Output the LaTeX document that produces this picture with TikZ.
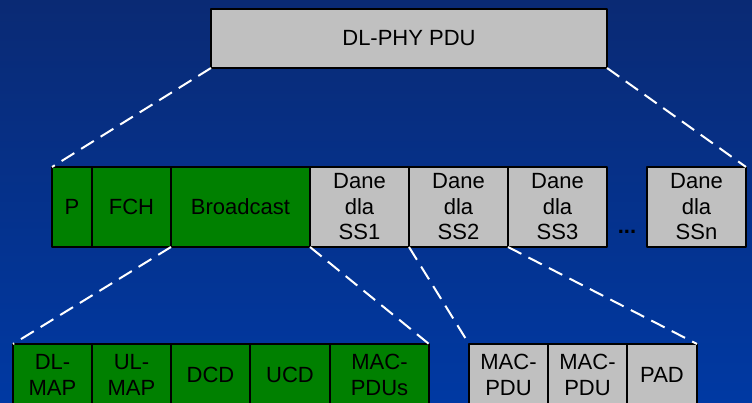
\documentclass[tikz,border=0pt]{standalone}
\usepackage{fontspec}
\setmainfont{Liberation Sans}
\usetikzlibrary{positioning}
\definecolor{tlogora}{HTML}{0A2A74}
\definecolor{tlodol}{HTML}{0039A3}
\definecolor{ziel}{HTML}{008000}
\definecolor{szar}{HTML}{C0C0C0}
\begin{document}
\begin{tikzpicture}[x=1pt, y=-1pt, font=\fontsize{22}{25.5}\selectfont, line join=round,
	pole/.style={draw=black, line width=1.5pt, inner sep=0pt, outer sep=0pt, align=center, anchor=west},
	pziel/.style={pole, fill=ziel},
	pszar/.style={pole, fill=szar},
	kres/.style={white, line width=2pt, dash pattern=on 15pt off 8pt}]
	\useasboundingbox (0,0) rectangle (752,403);
	\shade[top color=tlogora, bottom color=tlodol] (0,0) rectangle (752,403);
	\clip (0,0) rectangle (752,403);
	\node[pszar, minimum width=396pt, minimum height=59pt] (pdu) at (211,38.5) {DL-PHY PDU};
	% ramka
	\begin{scope}[nodes={minimum height=80pt}]
		\node[pziel, minimum width=40pt] (p) at (52,207) {P};
		\node[pziel, minimum width=79pt, right=0pt of p] (fch) {FCH};
		\node[pziel, minimum width=139pt, right=0pt of fch] (bc) {Broadcast};
		\node[pszar, minimum width=99pt, right=0pt of bc] (ss1) {Dane\\dla\\SS1};
		\node[pszar, minimum width=99pt, right=0pt of ss1] (ss2) {Dane\\dla\\SS2};
		\node[pszar, minimum width=99pt, right=0pt of ss2] (ss3) {Dane\\dla\\SS3};
		\node[pszar, minimum width=99pt] (ssn) at (647,207) {Dane\\dla\\SSn};
	\end{scope}
	\node[anchor=base, font=\fontsize{22}{22}\selectfont\bfseries] (kropki) at (627,234) {...};
	% broadcast
	\begin{scope}[nodes={minimum height=62pt}]
		\node[pziel, minimum width=79pt] (dlmap) at (13,375) {DL-\\MAP};
		\node[pziel, minimum width=79pt, right=0pt of dlmap] (ulmap) {UL-\\MAP};
		\node[pziel, minimum width=79pt, right=0pt of ulmap] (dcd) {DCD};
		\node[pziel, minimum width=80pt, right=0pt of dcd] (ucd) {UCD};
		\node[pziel, minimum width=99pt, right=0pt of ucd] (macs) {MAC-\\PDUs};
	% dane SS
		\node[pszar, minimum width=79pt] (mac1) at (469,375) {MAC-\\PDU};
		\node[pszar, minimum width=79pt, right=0pt of mac1] (mac2) {MAC-\\PDU};
		\node[pszar, minimum width=70pt, right=0pt of mac2] (pad) {PAD};
	\end{scope}
	\draw[kres] (pdu.south west) -- (p.north west);
	\draw[kres] (pdu.south east) -- (ssn.north east);
	\draw[kres] (fch.south east) -- (dlmap.north west);
	\draw[kres] (bc.south east) -- (macs.north east);
	\draw[kres] (ss2.south west) -- (mac1.north west);
	\draw[kres] (ss3.south west) -- (pad.north east);
\end{tikzpicture}
\end{document}
